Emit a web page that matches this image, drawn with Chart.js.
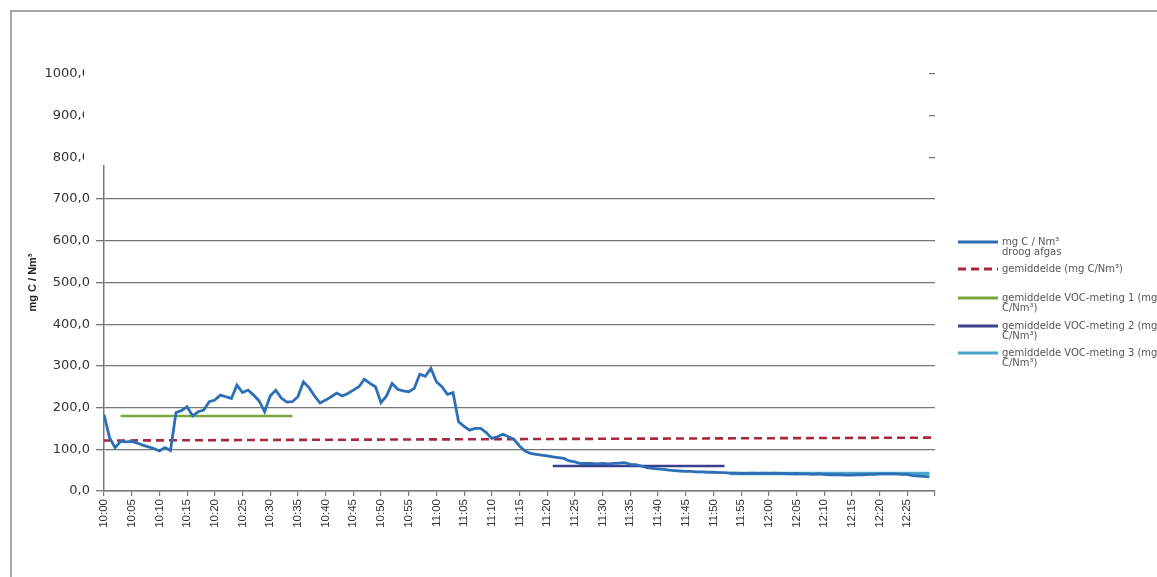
<!DOCTYPE html>
<html><head><meta charset="utf-8">
<script src="https://cdn.jsdelivr.net/npm/chart.js@4.4.1/dist/chart.umd.min.js"></script>
<style>html,body{margin:0;padding:0;background:#fff;}canvas{display:block;}</style>
</head><body>
<canvas id="c" width="1157" height="577"></canvas>
<script>
// Category axis: minutes after 10:00, one value per minute
const xTickValues = [0,5,10,15,20,25,30,35,40,45,50,55,60,65,70,75,80,85,90,95,100,105,110,115,120,125,130,135,140,145,150];
const xTickLabels = ['10:00','10:05','10:10','10:15','10:20','10:25','10:30','10:35','10:40','10:45','10:50','10:55',
  '11:00','11:05','11:10','11:15','11:20','11:25','11:30','11:35','11:40','11:45','11:50','11:55',
  '12:00','12:05','12:10','12:15','12:20','12:25',''];
const yTickValues = [0,100,200,300,400,500,600,700,800,900,1000];

// mg C / Nm³ droog afgas, per minute from 10:00
const concentration = [
  183,128,104,119,118,119,115,110,106,102,
   96,104, 97,188,193,202,180,190,194,214,
  218,230,226,222,254,236,242,230,216,190,
  228,242,223,213,214,226,262,248,228,211,
  218,226,235,228,234,242,250,268,258,250,
  212,228,258,244,240,238,246,280,275,294,
  262,250,232,236,166,155,146,150,150,140,
  126,130,136,130,124,108, 96, 90, 88, 86,
   84, 82, 80, 78, 72, 70, 66, 66, 66, 65,
   66, 65, 66, 67, 68, 64, 63, 60, 56, 54,
   53, 52, 50, 49, 48, 47, 47, 46, 46, 45,
   45, 44, 44, 43, 43, 42, 42, 43, 42, 43,
   42, 43, 42, 42, 41, 42, 41, 41, 40, 41,
   40, 39, 39, 39, 38, 38, 39, 39, 40, 40,
   41, 41, 41, 41, 40, 40, 37, 36, 35, 34
];
const averageMinutes = [0, 150];
const averageValues = [121, 128];
const voc1Minutes = [3, 34];
const voc1Values = [180, 180];
const voc2Minutes = [81, 112];
const voc2Values = [60, 60];
const voc3Minutes = [113, 149];
const voc3Values = [42, 42];

const legendLines = [
  ['mg C / Nm³', 'droog afgas'],
  ['gemiddelde (mg C/Nm³)'],
  ['gemiddelde VOC-meting 1 (mg', 'C/Nm³)'],
  ['gemiddelde VOC-meting 2 (mg', 'C/Nm³)'],
  ['gemiddelde VOC-meting 3 (mg', 'C/Nm³)']
];
const seriesColors = ['#2d6fb6', '#a8283d', '#78a83c', '#3b3f8e', '#49a6cb'];

const pts = (xs, ys) => ys.map((y, i) => ({x: xs[i], y}));

const overlay = {
  id: 'overlay',
  beforeDraw(c) {
    const ctx = c.ctx;
    ctx.save(); ctx.fillStyle = '#fff'; ctx.fillRect(0, 0, c.width, c.height); ctx.restore();
  },
  afterDraw(c) {
    const ctx = c.ctx;
    ctx.save();
    // white patch over the top of the scanned chart
    ctx.fillStyle = '#fff';
    ctx.fillRect(84, 15, 845, 150);
    // scan frame
    ctx.strokeStyle = '#8a8a8a'; ctx.lineWidth = 1.5;
    ctx.beginPath(); ctx.moveTo(10, 11); ctx.lineTo(1157, 11); ctx.moveTo(11, 11); ctx.lineTo(11, 577); ctx.stroke();
    // legend
    const ys = [242, 269, 298, 326, 353];
    ctx.font = '10px "DejaVu Sans"';
    ctx.textBaseline = 'middle';
    ys.forEach((y, i) => {
      ctx.strokeStyle = seriesColors[i];
      ctx.lineWidth = 3;
      ctx.setLineDash(i === 1 ? [8, 5] : []);
      ctx.beginPath(); ctx.moveTo(958, y); ctx.lineTo(998, y); ctx.stroke();
      ctx.setLineDash([]);
      ctx.fillStyle = '#555';
      legendLines[i].forEach((t, j) => ctx.fillText(t, 1002, y + j * 10.5));
    });
    ctx.restore();
  }
};

new Chart(document.getElementById('c'), {
  type: 'line',
  data: {
    datasets: [
      {label: legendLines[0].join(' '), data: pts(concentration.map((_, i) => i), concentration),
       borderColor: seriesColors[0], borderWidth: 2.8, pointRadius: 0, tension: 0, order: 0},
      {label: legendLines[1][0], data: pts(averageMinutes, averageValues),
       borderColor: seriesColors[1], borderWidth: 2.6, borderDash: [8, 5], pointRadius: 0, order: 1},
      {label: legendLines[2].join(' '), data: pts(voc1Minutes, voc1Values),
       borderColor: seriesColors[2], borderWidth: 2.6, pointRadius: 0, order: 2},
      {label: legendLines[3].join(' '), data: pts(voc2Minutes, voc2Values),
       borderColor: seriesColors[3], borderWidth: 2.6, pointRadius: 0, order: 3},
      {label: legendLines[4].join(' '), data: pts(voc3Minutes, voc3Values),
       borderColor: seriesColors[4], borderWidth: 3.4, pointRadius: 0, order: 4}
    ]
  },
  options: {
    responsive: false, animation: false, devicePixelRatio: 1,
    layout: {padding: {left: 0, right: 222, top: 74, bottom: 0}},
    plugins: {legend: {display: false}, tooltip: {enabled: false}},
    scales: {
      x: {
        type: 'linear', min: 0, max: 150,
        afterBuildTicks: s => { s.ticks = xTickValues.map(v => ({value: v})); },
        afterFit: s => { s.height = 86; },
        grid: {drawOnChartArea: false, drawTicks: true, tickLength: 5, color: '#777', lineWidth: 1.2},
        border: {color: '#777', width: 1.5},
        ticks: {autoSkip: false, minRotation: 90, maxRotation: 90, padding: 3, color: '#333',
          font: {family: 'Liberation Sans', size: 11.5},
          callback: v => xTickLabels[xTickValues.indexOf(v)] ?? ''}
      },
      y: {
        min: 0, max: 1000,
        afterBuildTicks: s => { s.ticks = yTickValues.map(v => ({value: v})); },
        afterFit: s => { s.width = 104; },
        grid: {color: '#767676', lineWidth: 1.3, tickLength: 8},
        border: {color: '#777', width: 1.5},
        ticks: {autoSkip: false, padding: 6, color: '#333', font: {family: 'DejaVu Sans', size: 13},
          callback: v => v.toFixed(1).replace('.', ',')},
        title: {display: true, text: 'mg C / Nm³', color: '#222', padding: {top: 26, bottom: 0},
          font: {family: 'Liberation Sans', size: 11, weight: 'bold'}}
      }
    }
  },
  plugins: [overlay]
});
</script>
</body></html>
